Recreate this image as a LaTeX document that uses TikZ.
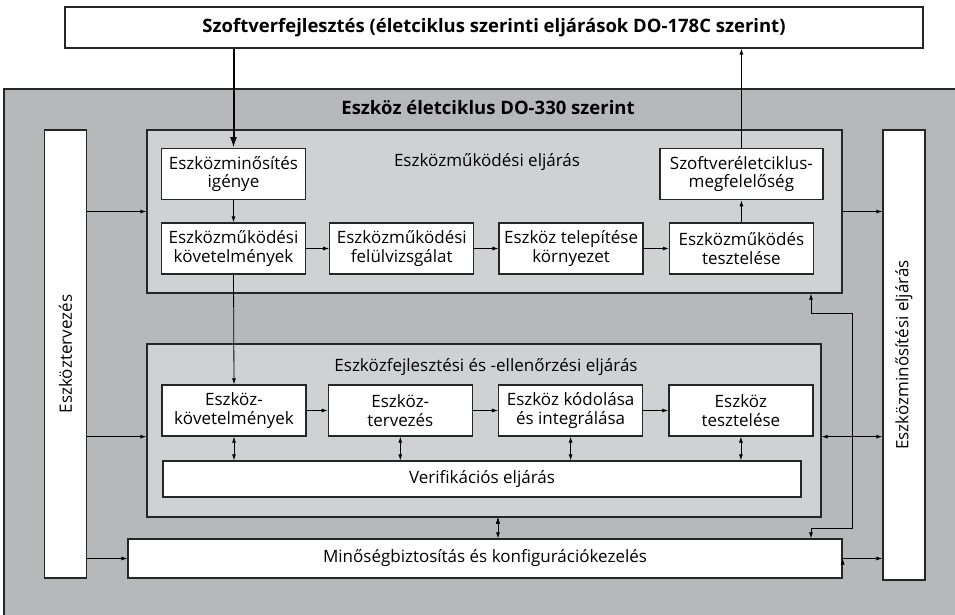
\documentclass[tikz,border=0pt]{standalone}
\usepackage{fontspec}
\setmainfont{Open Sans}
\usetikzlibrary{positioning,arrows.meta}
\definecolor{outergray}{HTML}{B6B8BA}
\definecolor{innergray}{HTML}{CFD1D2}
\tikzset{proc node/.style={draw=black!85, fill=white, line width=1.3pt, minimum width=144pt, minimum height=51pt, align=center, inner sep=1pt, font=\fontsize{17}{18.5}\selectfont},
  bar node/.style={draw=black!85, fill=white, line width=1.3pt, minimum width=42pt, inner sep=0pt, font=\fontsize{17}{18.5}\selectfont},
  panel node/.style={draw=black!85, fill=innergray, line width=1.3pt, inner sep=0pt},
  flow/.style={line width=0.8pt, >={Latex[length=6pt,width=4pt]}},}

\begin{document}
\begin{tikzpicture}[x=1pt, y=-1pt]
        \useasboundingbox (0,0) rectangle (955,615);
        % Background
        \fill[outergray] (4,89) rectangle (960,620);
        \draw[line width=1.3pt, black!85] (4,620) -- (4,89) -- (960,89);
        % Nodes
        \node[proc node, minimum width=858pt, minimum height=41pt, font=\fontsize{18.5}{20}\selectfont\bfseries] (sw) at (494,27.5) {Szoftverfejlesztés (életciklus szerinti eljárások DO-178C szerint)};
        \node[font=\fontsize{18.5}{20}\selectfont\bfseries] (life) at (488,108) {Eszköz életciklus DO-330 szerint};
        \node[bar node, minimum height=448pt] (lbar) at (65.5,354) {\rotatebox{90}{Eszköztervezés}};
        \node[bar node, minimum height=450pt] (rbar) at (904,355) {\rotatebox{90}{Eszközminősítési eljárás}};
        \node[panel node, minimum width=695pt, minimum height=163pt] (upanel) at (494.5,211.5) {};
        \node[panel node, minimum width=674pt, minimum height=173pt] (lpanel) at (484,430.5) {};
        \node[font=\fontsize{17}{18.5}\selectfont] (utitle) at (487,162) {Eszközműködési eljárás};
        \node[font=\fontsize{17}{18.5}\selectfont] (ltitle) at (486,367) {Eszközfejlesztési és -ellenőrzési eljárás};
        \node[proc node] (kov) at (233.5,248.5) {Eszközműködési\\követelmények};
        \node[proc node] [above = 22pt of kov] (igeny) {Eszközminősítés\\igénye};
        \node[proc node] [right = 23pt of kov] (felul) {Eszközműködési\\felülvizsgálat};
        \node[proc node] [right = 24pt of felul] (telep) {Eszköz telepítése\\környezet};
        \node[proc node] [right = 25pt of telep] (teszt) {Eszközműködés\\tesztelése};
        \node[proc node, minimum width=163pt] [above = 22pt of teszt] (szoft) {Szoftveréletciklus-\\megfelelőség};
        \node[proc node] (ekov) at (234,410.5) {Eszköz-\\követelmények};
        \node[proc node] [right = 21pt of ekov] (eterv) {Eszköz-\\tervezés};
        \node[proc node] [right = 25pt of eterv] (ekod) {Eszköz kódolása\\és integrálása};
        \node[proc node] [right = 25pt of ekod] (eteszt) {Eszköz\\tesztelése};
        \node[proc node, minimum width=638pt, minimum height=36pt] (verif) at (482,479) {Verifikációs eljárás};
        \node[proc node, minimum width=714pt, minimum height=39pt] (qa) at (485,558.5) {Minőségbiztosítás és konfigurációkezelés};
        \coordinate (qx) at (811,0);
        \coordinate (qk1) at (852,313);
        \coordinate (qk2) at (852,528);
        % Paths
        \draw[line width=2pt, -{Latex[length=11pt,width=7pt]}] (sw.south -| igeny.north) -- (igeny.north);
        \path[draw, flow, ->]
        (szoft.north) edge (sw.south -| szoft.north)
        (igeny) edge (kov)
        (kov) edge (felul)
        (felul) edge (telep)
        (telep) edge (teszt)
        (teszt) edge (szoft)
        (kov.south) edge (ekov.north)
        (ekov) edge (eterv)
        (eterv) edge (ekod)
        (ekod) edge (eteszt)
        (lbar.east |- upanel.west) edge (upanel.west)
        (lbar.east |- ekov.south) edge (lpanel.west |- ekov.south)
        (lbar.east |- qa.west) edge (qa.west)
        (upanel.east) edge (rbar.west |- upanel.east)
        (qa.east) edge (rbar.west |- qa.east);
        \path[draw, flow, <->]
        (ekov.south) edge (verif.north -| ekov.south)
        (eterv.south) edge (verif.north -| eterv.south)
        (ekod.south) edge (verif.north -| ekod.south)
        (eteszt.south) edge (verif.north -| eteszt.south)
        (lpanel.east |- eteszt.south) edge (rbar.west |- eteszt.south)
        (ekod.south west |- lpanel.south) edge (ekod.south west |- qa.north);
        \draw[flow, <->] (upanel.south -| qx) |- (qk1) -- (qk2) -| (qa.north -| qx);
\end{tikzpicture}
\end{document}
